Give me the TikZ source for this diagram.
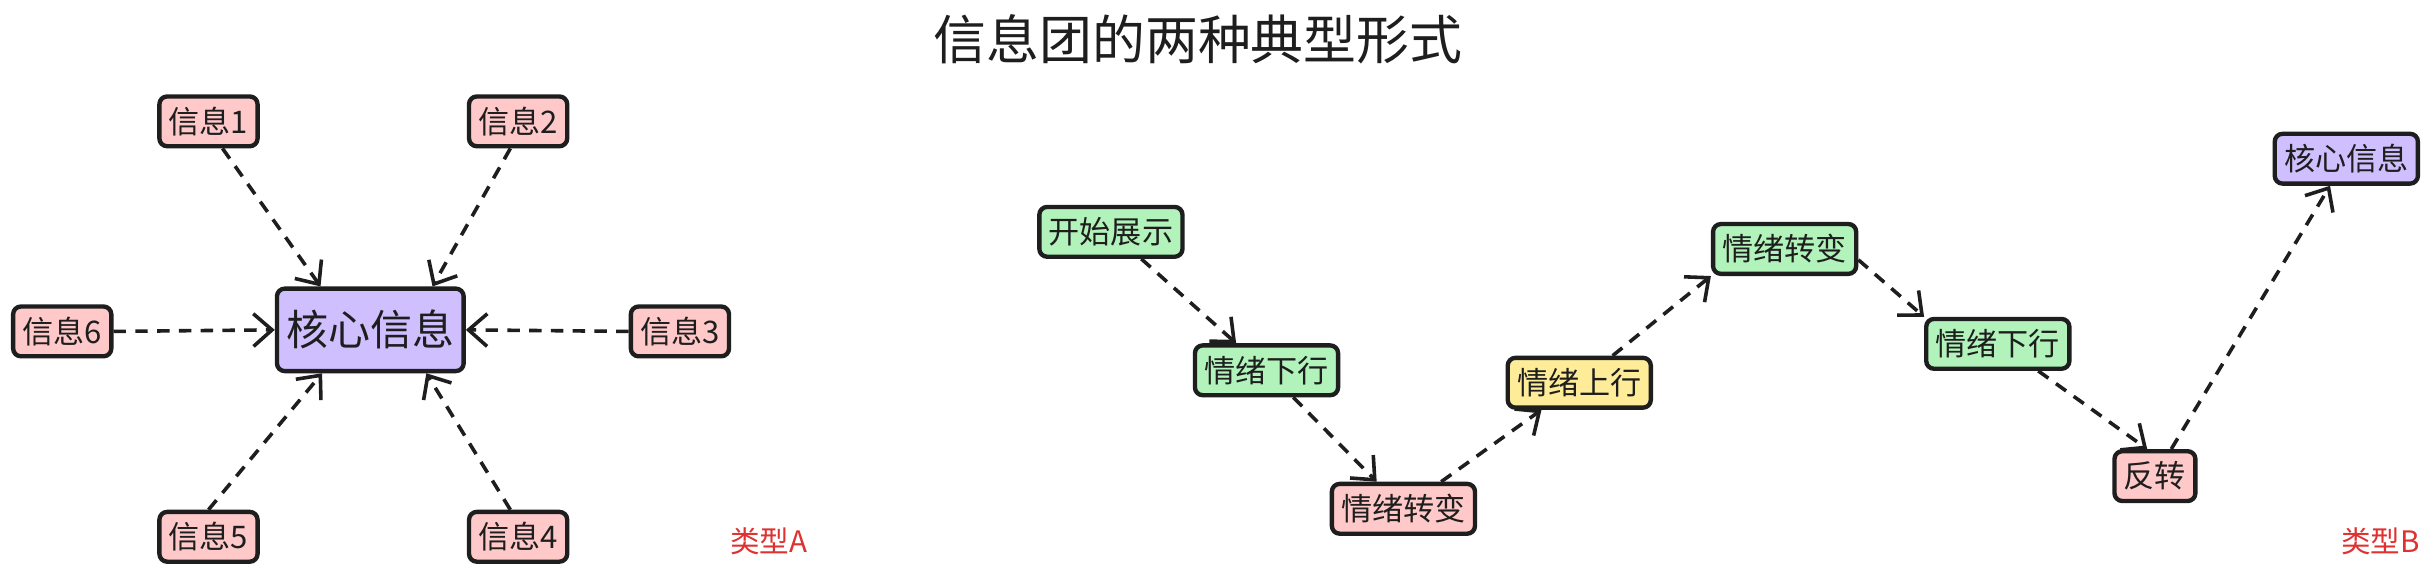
\documentclass[tikz,border=0pt]{standalone}
\usepackage{fontspec}
\setmainfont{Noto Sans CJK SC}
\usetikzlibrary{arrows.meta}

\definecolor{inkline}{HTML}{1E1E1E}
\definecolor{pinkfill}{HTML}{FFC9C9}
\definecolor{greenfill}{HTML}{B2F2BB}
\definecolor{yellowfill}{HTML}{FFEC99}
\definecolor{purplefill}{HTML}{D0BFFF}
\definecolor{labelred}{HTML}{E03131}

\begin{document}
\begin{tikzpicture}[x=1pt,y=-1pt,line join=round]

% Box and arrow styles
\tikzset{
    infobox/.style={
        draw=inkline,
        line width=2.8pt,
        rounded corners=5pt,
        text=inkline,
        inner xsep=6pt,
        inner ysep=0pt,
        minimum height=32pt,
        font=\fontsize{20}{20}\selectfont
    },
    corebox/.style={
        infobox,
        minimum height=53pt,
        font=\fontsize{27}{27}\selectfont
    },
    flow/.style={
        draw=inkline,
        line width=2.3pt,
        dash pattern=on 8pt off 6pt,
        -{Straight Barb[length=12pt,width=21pt,line width=2.3pt]}
    },
}

% Page
\fill[white] (0,0) rectangle (1565,372);
\useasboundingbox (0,0) rectangle (1565,372);

% Title
\node[text=inkline,font=\fontsize{34}{34}\selectfont] (title) at (770,25) {信息团的两种典型形式};

% Type A boxes
\node[corebox,fill=purplefill] (coreA) at (238,212) {核心信息};
\node[infobox,fill=pinkfill] (info1) at (134,78) {信息1};
\node[infobox,fill=pinkfill] (info2) at (333,78) {信息2};
\node[infobox,fill=pinkfill] (info3) at (437,213) {信息3};
\node[infobox,fill=pinkfill] (info4) at (333,345) {信息4};
\node[infobox,fill=pinkfill] (info5) at (134,345) {信息5};
\node[infobox,fill=pinkfill] (info6) at (40,213) {信息6};
\node[text=labelred,font=\fontsize{19}{19}\selectfont] (typeA) at (494,348) {类型A};

% Type A arrows
\draw[flow] ([xshift=9pt]info1.south) -- ([xshift=-32pt]coreA.north);
\draw[flow] ([xshift=-5pt]info2.south) -- ([xshift=40pt]coreA.north);
\draw[flow] (info3.west) -- (coreA.east);
\draw[flow] ([xshift=-5pt]info4.north) -- ([xshift=36pt]coreA.south);
\draw[flow] (info5.north) -- ([xshift=-31pt]coreA.south);
\draw[flow] (info6.east) -- (coreA.west);

% Type B boxes
\node[infobox,fill=greenfill] (start) at (714,149) {开始展示};
\node[infobox,fill=greenfill] (downA) at (814,238) {情绪下行};
\node[infobox,fill=pinkfill] (turnA) at (902,327) {情绪转变};
\node[infobox,fill=yellowfill] (up) at (1015,246) {情绪上行};
\node[infobox,fill=greenfill] (turnB) at (1147,160) {情绪转变};
\node[infobox,fill=greenfill] (downB) at (1284,221) {情绪下行};
\node[infobox,fill=pinkfill] (flip) at (1385,306) {反转};
\node[infobox,fill=purplefill] (coreB) at (1508,102) {核心信息};
\node[text=labelred,font=\fontsize{19}{19}\selectfont] (typeB) at (1530,348) {类型B};

% Type B arrows
\draw[flow] (start) -- (downA);
\draw[flow] (downA) -- (turnA);
\draw[flow] (turnA) -- (up);
\draw[flow] (up) -- (turnB.south west);
\draw[flow] ([yshift=-7pt]turnB.east) -- (downB.north west);
\draw[flow] ([xshift=26pt]downB.south) -- ([xshift=-5pt]flip.north);
\draw[flow] (flip) -- (coreB);

\end{tikzpicture}
\end{document}
